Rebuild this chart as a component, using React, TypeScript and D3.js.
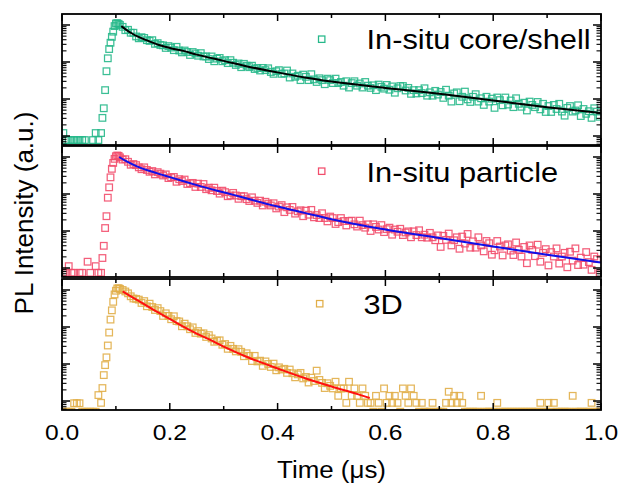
import React from "react";
import * as d3 from "d3";

// Time-resolved PL decay, log10 of counts per 5 ns bin (bin centres 0.0025 + 0.005*i µs); null = empty bin
const BIN_START = 0.0025;
const BIN_WIDTH = 0.005;

const coreShellLogPL: (number | null)[] = [
  1.08, 0.89, 0.89, 0.89, 0.89, 0.89, 0.89, 0.89, 0.89, null, null, 0.89, 1.08, 0.89, 1.08,
  1.75, 2.75, 3.35, 3.68, 3.97, 4.05, 4.0,
  3.95, 3.86, 3.87, 3.79, 3.79, 3.69, 3.64, 3.67, 3.65, 3.59, 3.57, 3.59, 3.49, 3.51, 3.46, 3.45, 3.38, 3.43,
  3.39, 3.32, 3.41, 3.31, 3.26, 3.31, 3.27, 3.19, 3.27, 3.23,
  3.17, 3.24, 3.15, 3.15, 3.08, 3.15, 3.02, 3.09, 3.11, 3.02,
  3.05, 2.97, 3.05, 2.98, 2.92, 2.96, 2.86, 2.95, 2.9, 2.86,
  2.9, 2.81, 2.84, 2.77, 2.84, 2.78, 2.83, 2.73, 2.68, 2.75,
  2.78, 2.68, 2.69, 2.77, 2.58, 2.69, 2.6, 2.63, 2.51, 2.66,
  2.6, 2.51, 2.67, 2.53, 2.46, 2.56, 2.51, 2.4, 2.55, 2.51,
  2.43, 2.55, 2.43, 2.46, 2.36, 2.48, 2.31, 2.43, 2.48, 2.36,
  2.42, 2.31, 2.46, 2.36, 2.3, 2.37, 2.24, 2.39, 2.33, 2.28,
  2.38, 2.25, 2.34, 2.17, 2.29, 2.35, 2.35, 2.23, 2.3, 2.14,
  2.24, 2.15, 2.24, 2.16, 2.29, 2.09, 2.18, 2.09, 2.22, 2.12,
  2.19, 2.03, 2.25, 2.09, 1.93, 2.15, 2.18, 1.94, 2.06, 2.2,
  1.99, 1.92, 2.06, 2.13, 1.93, 2.02, 1.84, 2.06, 1.93, 2.01,
  1.76, 2.04, 1.97, 1.83, 2.04, 1.85, 1.96, 1.78, 2.02, 1.87,
  1.79, 1.9, 1.69, 1.93, 1.84, 1.78, 1.92, 1.72, 1.87, 1.65,
  1.81, 1.65, 1.84, 1.73, 1.87, 1.66, 1.55, 1.76, 1.81, 1.66,
  1.69, 1.83, 1.54, 1.73, 1.6, 1.67, 1.49, 1.75, 1.66, 1.52,
];

const particleLogPL: (number | null)[] = [
  0.87, 0.87, 1.05, 0.87, 0.87, null, 0.87, 0.87, null, 1.17, 0.87, null, 1.05, 0.87, 0.87,
  1.6, 2.4, 3.18, 3.68, 3.95, 4.04, 3.99,
  3.93, 3.94, 3.87, 3.79, 3.81, 3.78, 3.72, 3.67, 3.72, 3.65, 3.6, 3.62, 3.53, 3.59, 3.55, 3.5, 3.53, 3.43,
  3.45, 3.46, 3.33, 3.4, 3.35, 3.39, 3.27, 3.29, 3.3, 3.19,
  3.28, 3.19, 3.27, 3.13, 3.17, 3.1, 3.17, 3.08, 3.01, 3.09,
  3.05, 2.94, 2.96, 3.03, 2.96, 2.87, 2.94, 2.94, 2.86, 2.81,
  2.91, 2.82, 2.76, 2.82, 2.69, 2.79, 2.74, 2.69, 2.75, 2.61,
  2.66, 2.7, 2.51, 2.64, 2.57, 2.65, 2.47, 2.53, 2.56, 2.4,
  2.55, 2.44, 2.57, 2.37, 2.43, 2.35, 2.48, 2.35, 2.26, 2.39,
  2.35, 2.19, 2.24, 2.35, 2.27, 2.15, 2.27, 2.28, 2.18, 2.12,
  2.28, 2.16, 2.09, 2.18, 2.0, 2.18, 2.11, 2.04, 2.16, 1.97,
  2.05, 2.09, 1.9, 2.04, 1.98, 2.06, 1.89, 1.96, 1.99, 1.83,
  1.99, 1.89, 2.02, 1.83, 1.9, 1.82, 1.95, 1.83, 1.75, 1.88,
  1.57, 1.87, 1.76, 1.93, 1.61, 1.75, 1.83, 1.52, 1.85, 1.66,
  1.92, 1.55, 1.72, 1.55, 1.83, 1.61, 1.45, 1.73, 1.67, 1.36,
  1.48, 1.73, 1.58, 1.34, 1.61, 1.64, 1.47, 1.35, 1.69, 1.49,
  1.31, 1.57, 1.13, 1.61, 1.49, 1.32, 1.63, 1.17, 1.41, 1.51,
  1.07, 1.43, 1.31, 1.53, 1.12, 1.31, 1.41, 1.02, 1.44, 1.2,
  1.53, 1.08, 1.28, 1.09, 1.43, 1.16, 0.95, 1.31, 1.24, 0.86,
];

const threeDLogPL: (number | null)[] = [
  0.71, 0.71, 0.71, 0.71, 0.94, 0.94, 0.94, 0.71, 0.71, 0.71, 0.71, 0.71, 0.71, 1.16, 0.95,
  1.7, 2.18, 2.85, 3.45, 3.88, 4.04, 4.03,
  4.0, 3.96, 3.91, 3.83, 3.77, 3.76, 3.74, 3.65, 3.7, 3.56, 3.63, 3.54, 3.46, 3.51, 3.43, 3.3, 3.37, 3.3,
  3.21, 3.29, 3.16, 3.15, 3.02, 3.09, 3.02, 2.94, 2.99, 2.84,
  2.89, 2.82, 2.83, 2.73, 2.78, 2.69, 2.6, 2.63, 2.64, 2.52,
  2.54, 2.41, 2.49, 2.41, 2.34, 2.4, 2.33, 2.21, 2.29, 2.22,
  2.08, 2.22, 2.07, 2.09, 1.95, 2.07, 2.0, 1.92, 2.01, 1.83,
  1.91, 1.85, 1.87, 1.76, 1.85, 1.75, 1.64, 1.72, 1.76, 1.61,
  1.65, 1.5, 1.63, 1.54, 1.82, 1.57, 1.49, 1.35, 1.48, 1.41,
  1.34, 1.52, 1.14, 1.34, 1.34, 0.95, 1.52, 1.14, 1.34, 1.14,
  0.95, 1.34, 1.14, 0.95, 0.95, 0.71, 1.14, 0.95, 0.71, 1.34,
  0.95, 1.14, 0.95, 1.14, 0.95, 0.71, 1.34, 1.14, 0.95, 1.34,
  1.14, 0.95, 0.71, 0.95, 0.71, 0.71, 0.71, 0.95, 0.71, 0.71,
  0.71, 0.71, 0.95, 1.25, 0.95, 1.14, 0.95, 1.14, 0.95, 0.71,
  0.71, 0.71, 0.71, 0.71, 0.71, 1.14, 0.71, 0.71, 0.71, 0.71,
  0.71, 0.95, 0.71, 0.71, 0.71, 0.71, 0.71, 0.71, 0.71, 0.71,
  0.71, 0.71, 0.71, 0.71, 0.71, 0.71, 0.71, 0.95, 0.71, 0.71,
  0.95, 0.71, 0.95, 0.71, 0.71, 0.71, 0.71, 0.71, 0.71, 1.14,
  0.71, 0.71, 0.71, 0.71, 0.71, 0.71, 0.95, 0.71, 0.71, 0.71,
];

// extra half-bin samples on the rising edge
const riseTimes = [0.075, 0.08, 0.085, 0.09, 0.095, 0.1, 0.105];
const coreShellRiseLogPL = [1.49, 2.24, 3.1, 3.52, 3.82, 4.04, 4.03];
const particleRiseLogPL = [1.27, 2.08, 2.9, 3.45, 3.84, 4.02, 4.03];
const threeDRiseLogPL = [1.35, 1.97, 2.5, 3.2, 3.68, 3.98, 4.05];

// fitted decay curves
const coreShellFitT = [0.11, 0.12, 0.13, 0.14, 0.16, 0.18, 0.2, 0.225, 0.25, 0.3, 0.35, 0.4, 0.45, 0.5, 0.6, 0.7, 0.8, 0.9, 1.0];
const coreShellFitLog = [3.97, 3.86, 3.77, 3.69, 3.57, 3.46, 3.38, 3.3, 3.2, 3.03, 2.86, 2.72, 2.58, 2.47, 2.3, 2.14, 1.96, 1.78, 1.62];
const particleFitT = [0.106, 0.12, 0.14, 0.163, 0.19, 0.224, 0.25, 0.288, 0.32, 0.35, 0.4, 0.45, 0.5, 0.6, 0.7, 0.8, 0.9, 1.0];
const particleFitLog = [4.0, 3.88, 3.74, 3.62, 3.5, 3.35, 3.24, 3.09, 2.97, 2.85, 2.66, 2.49, 2.32, 2.04, 1.81, 1.58, 1.36, 1.15];
const threeDFitT = [0.1125, 0.13, 0.15, 0.175, 0.2, 0.225, 0.25, 0.275, 0.3, 0.35, 0.4, 0.45, 0.5, 0.55, 0.571];
const threeDFitLog = [3.96, 3.81, 3.64, 3.42, 3.22, 3.01, 2.82, 2.65, 2.47, 2.15, 1.88, 1.62, 1.39, 1.18, 1.08];

const seriesNames = ["In-situ core/shell", "In-situ particle", "3D"];
const seriesColors = ["#26b88a", "#f24d6c", "#e1ae48"];
const fitColors = ["#000000", "#1010e8", "#ff1010"];

const xTickValues = [0, 0.1, 0.2, 0.3, 0.4, 0.5, 0.6, 0.7, 0.8, 0.9, 1.0];
const xTickLabels = ["0.0", "0.2", "0.4", "0.6", "0.8", "1.0"];
const xLabelValues = [0, 0.2, 0.4, 0.6, 0.8, 1.0];
const yDomainLog = [0.757, 4.297];

const FONT = "'Liberation Sans', Arial, Helvetica, sans-serif";

export default function App() {
  const width = 623;
  const height = 491;
  const left = 62;
  const right = 601;
  const panelTops = [14, 146, 279];
  const panelH = 131;
  const x = d3.scaleLinear().domain([0, 1]).range([left, right]);
  const ms = 6.6;

  const series = [
    { logs: coreShellLogPL, rise: coreShellRiseLogPL, fitT: coreShellFitT, fitLog: coreShellFitLog, legend: { mx: 321.5, my: 39, tx: 366.5, ty: 48.5 } },
    { logs: particleLogPL, rise: particleRiseLogPL, fitT: particleFitT, fitLog: particleFitLog, legend: { mx: 321.5, my: 171, tx: 366.5, ty: 181.5 } },
    { logs: threeDLogPL, rise: threeDRiseLogPL, fitT: threeDFitT, fitLog: threeDFitLog, legend: { mx: 319.5, my: 303.5, tx: 363.5, ty: 313.5 } },
  ];

  return (
    <svg width={width} height={height} style={{ position: "absolute", left: 0, top: 0 }} fontFamily={FONT}>
      <rect width={width} height={height} fill="#fff" />
      {series.map((s, k) => {
        const top = panelTops[k];
        const bottom = top + panelH;
        const y = d3.scaleLog().domain(yDomainLog.map((v) => Math.pow(10, v))).range([bottom, top]);
        const pts: [number, number][] = [];
        s.logs.forEach((v, i) => {
          if (v != null) pts.push([BIN_START + BIN_WIDTH * i, v]);
        });
        riseTimes.forEach((t, i) => pts.push([t, s.rise[i]]));
        const line = d3
          .line<[number, number]>()
          .x((d) => x(d[0]))
          .y((d) => y(Math.pow(10, d[1])))
          .curve(d3.curveMonotoneX);
        const fitPts: [number, number][] = s.fitT.map((t, i) => [t, s.fitLog[i]]);
        const yTicks = y.ticks();
        const color = seriesColors[k];
        return (
          <g key={k}>
            <defs>
              <clipPath id={`clip-${k}`}>
                <rect x={left} y={top} width={right - left} height={panelH} />
              </clipPath>
            </defs>
            <g clipPath={`url(#clip-${k})`}>
              {pts.map(([t, v], i) => (
                <rect
                  key={i}
                  x={x(t) - ms / 2}
                  y={y(Math.pow(10, v)) - ms / 2}
                  width={ms}
                  height={ms}
                  fill="none"
                  stroke={color}
                  strokeWidth={1.25}
                  strokeOpacity={0.9}
                />
              ))}
              <path d={line(fitPts) || ""} fill="none" stroke={fitColors[k]} strokeWidth={2} />
            </g>
            {/* legend */}
            <rect x={s.legend.mx - 3} y={s.legend.my - 3} width={6.4} height={6.4} fill="none" stroke={color} strokeWidth={1.25} />
            <text transform={`translate(${s.legend.tx},${s.legend.ty}) scale(1.1,1)`} fontSize={28} fill="#000">
              {seriesNames[k]}
            </text>
            {/* y ticks */}
            {yTicks.map((t, i) => {
              const lg = Math.log10(t);
              const major = Math.abs(lg - Math.round(lg)) < 1e-6;
              const len = major ? 8 : 4.5;
              const yy = y(t);
              return (
                <g key={`yt${i}`} stroke="#000" strokeWidth={major ? 1.5 : 1.1}>
                  <line x1={left} x2={left + len} y1={yy} y2={yy} />
                  <line x1={right} x2={right - len} y1={yy} y2={yy} />
                </g>
              );
            })}
            {/* x ticks */}
            {xTickValues.map((t, i) => {
              const major = i % 2 === 0;
              const len = major ? 7 : 4;
              const xx = x(t);
              return (
                <g key={`xt${i}`} stroke="#000" strokeWidth={1.5}>
                  <line x1={xx} x2={xx} y1={top} y2={top + len} />
                  <line x1={xx} x2={xx} y1={bottom} y2={bottom - len} />
                </g>
              );
            })}
            <rect x={left} y={top} width={right - left} height={panelH} fill="none" stroke="#000" strokeWidth={1.8} />
          </g>
        );
      })}
      {xLabelValues.map((t, i) => (
        <text
          key={`xl${i}`}
          transform={`translate(${x(t)},440) scale(1.12,1)`}
          textAnchor="middle"
          fontSize={22}
          fill="#000"
        >
          {xTickLabels[i]}
        </text>
      ))}
      <text transform={`translate(${(left + right) / 2},478) scale(1.08,1)`} textAnchor="middle" fontSize={24} fill="#000">
        Time (μs)
      </text>
      <text transform="translate(33,213) rotate(-90)" textAnchor="middle" fontSize={26} fill="#000">
        PL Intensity (a.u.)
      </text>
    </svg>
  );
}
